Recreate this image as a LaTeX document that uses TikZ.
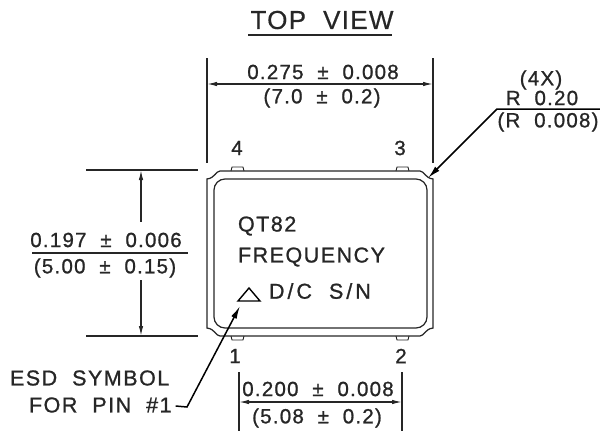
\documentclass[tikz,border=0pt]{standalone}
\usepackage{fontspec}
\setmainfont{Liberation Sans}
\usetikzlibrary{arrows.meta}
\definecolor{inkgray}{gray}{.15}
\newcommand{\cadfont}{\addfontfeature{LetterSpace=6,FakeBold=1}\fontsize{20.5pt}{22pt}\selectfont}
\newcommand{\markfont}{\addfontfeature{LetterSpace=7,FakeBold=1}\fontsize{21.5pt}{24pt}\selectfont}
\newcommand{\titlefont}{\addfontfeature{LetterSpace=5,FakeBold=.5}\fontsize{26pt}{28pt}\selectfont}
\tikzset{
  cadtext/.style={font=\cadfont,text=inkgray,inner sep=0pt,outer sep=0pt},
  marktext/.style={cadtext,font=\markfont,anchor=west},
  cadline/.style={draw=inkgray,line width=1.25pt},
  dimarrow/.style={cadline,{Latex[length=10pt,width=4.5pt]}-{Latex[length=10pt,width=4.5pt]}},
  leaderline/.style={draw=black,line width=1.5pt,-{Latex[length=13pt,width=6pt]}}
}
\begin{document}
\begin{tikzpicture}[x=1pt,y=-1pt]
  \useasboundingbox (0,0) rectangle (600,432);
  % title
  \node[cadtext,font=\titlefont] (title) at (322,20) {TOP\ \ VIEW};
  \draw[cadline] (248,35)--(392,35);
  % package outline
  \draw[cadline] (220,171)--(420,171)..controls (424,171) and (425,178) .. (433,179)
    --(433,328)..controls (425,329) and (424,336) .. (420,336)
    --(220,336)..controls (216,336) and (215,329) .. (207,328)
    --(207,179)..controls (215,178) and (216,171) .. (220,171)--cycle;
  \draw[cadline,rounded corners=11pt] (214,179) rectangle (427,328);
  % pads
  \foreach \padx in {231,396} {
    \draw[cadline,line width=.9pt] (\padx,171)--(\padx+1,167)--(\padx+12,167)--(\padx+13,171);
    \draw[cadline,line width=.9pt] (\padx,336)--(\padx+1,340)--(\padx+12,340)--(\padx+13,336);
  }
  \node[cadtext] (pinfour) at (237,148) {4};
  \node[cadtext] (pinthree) at (400,148) {3};
  \node[cadtext] (pinone) at (235,356) {1};
  \node[cadtext] (pintwo) at (401,356) {2};
  % marking
  \node[marktext] (part) at (238,226) {QT82};
  \node[marktext] (freq) at (238,257) {FREQUENCY};
  \draw[draw=black,line width=1.4pt] (238,301)--(260,301)--(249,288)--cycle;
  \node[marktext] (code) at (269,291) {D\hspace*{3pt}/\hspace*{3pt}C\hspace*{17pt}S\hspace*{3pt}/\hspace*{3pt}N};
  % top dimension
  \coordinate (topa) at (207,84);
  \coordinate (topb) at (433,84);
  \draw[cadline] (207,58)--(207,163);
  \draw[cadline] (433,58)--(433,163);
  \draw[dimarrow] (topa)--(topb);
  \node[cadtext] (topin) at (323,72) {0.275\ \ ±\ \ 0.008};
  \node[cadtext] (topmm) at (322,98) {(7.0\ \ ±\ \ 0.2)};
  % left dimension
  \coordinate (lefta) at (141,170);
  \coordinate (leftb) at (141,336);
  \draw[cadline] (86,170)--(198,170);
  \draw[cadline] (86,336)--(198,336);
  \node[cadtext] (leftin) at (106,240) {0.197\ \ ±\ \ 0.006};
  \node[cadtext] (leftmm) at (105,268) {(5.00\ \ ±\ \ 0.15)};
  \draw[cadline,line width=1.6pt] (32,253)--(188,253);
  \draw[cadline,{Latex[length=10pt,width=4.5pt]}-] (lefta)--(141,222);
  \draw[cadline,-{Latex[length=10pt,width=4.5pt]}] (141,280)--(leftb);
  % bottom dimension
  \coordinate (bota) at (239,402);
  \coordinate (botb) at (402,402);
  \draw[cadline] (239,372)--(239,431);
  \draw[cadline] (402,372)--(402,431);
  \draw[dimarrow] (bota)--(botb);
  \node[cadtext] (botin) at (318,389) {0.200\ \ ±\ \ 0.008};
  \node[cadtext] (botmm) at (317,418) {(5.08\ \ ±\ \ 0.2)};
  % corner radius callout
  \node[cadtext] (radcount) at (541,80) {(4X)};
  \node[cadtext] (radin) at (542,98) {R\ \ 0.20};
  \node[cadtext] (radmm) at (548,122) {(R\ \ 0.008)};
  \coordinate (radcorner) at (428,178);
  \draw[leaderline] (600,109)--(497,109)--(radcorner);
  % esd callout
  \node[marktext] (esdone) at (10,378) {ESD\ \ SYMBOL};
  \node[marktext] (esdtwo) at (29,405) {FOR\ \ PIN\ \ \#1};
  \coordinate (esdmark) at (240,306);
  \draw[leaderline] (esdtwo.east)++(4,1)--(187,407)--(esdmark);
\end{tikzpicture}
\end{document}
